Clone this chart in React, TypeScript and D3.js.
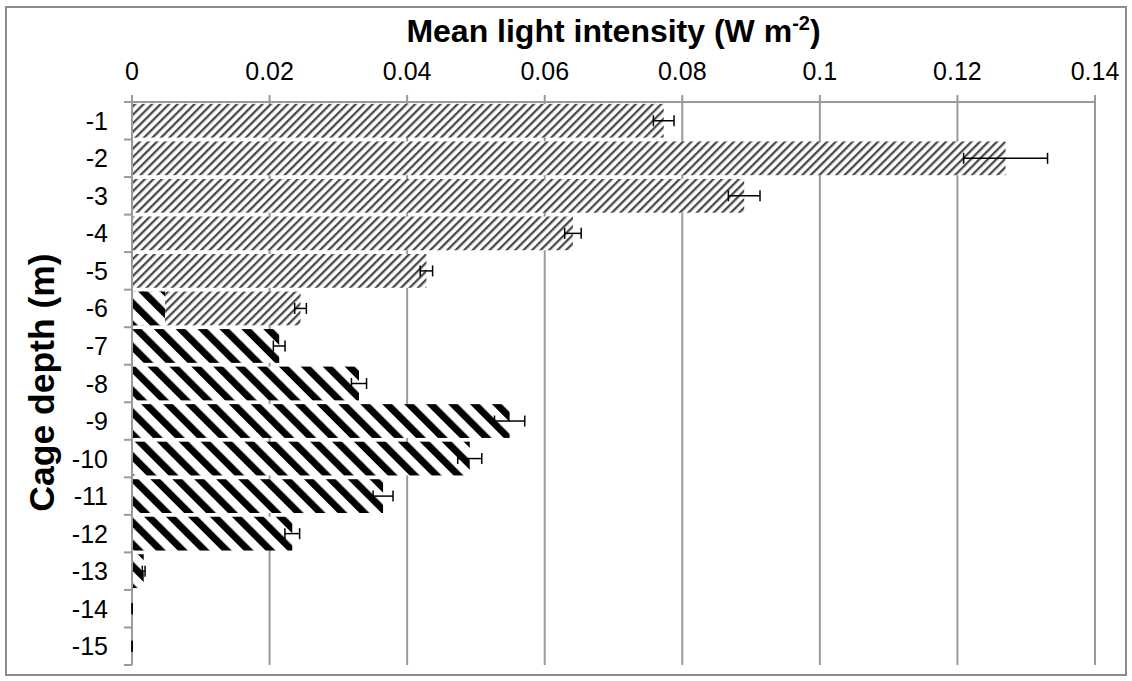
import React, { useEffect, useRef } from 'react';
import * as d3 from 'd3';

// cage depth (m), top to bottom
const depths = [-1, -2, -3, -4, -5, -6, -7, -8, -9, -10, -11, -12, -13, -14, -15];

// mean light intensity (W m-2), shallow cages (fine hatch)
const shallowMean = [0.0773, 0.127, 0.089, 0.0641, 0.0428, 0.0245, null, null, null, null, null, null, null, null, null];
const shallowErr = [0.0015, 0.0061, 0.0023, 0.0012, 0.0009, 0.00085, null, null, null, null, null, null, null, null, null];

// deep cages (bold hatch)
const deepMean = [null, null, null, null, null, 0.0048, 0.0214, 0.033, 0.0549, 0.0491, 0.0365, 0.0233, 0.0017, 0.00003, 0.00002];
const deepErr = [null, null, null, null, null, null, 0.00085, 0.0011, 0.0022, 0.00175, 0.00145, 0.00107, 0.0002, 0.00001, 0.00001];

const xTicks = [0, 0.02, 0.04, 0.06, 0.08, 0.1, 0.12, 0.14];

const W = 1132;
const H = 681;
const font = '"Liberation Sans", Arial, sans-serif';

export default function App() {
    const ref = useRef<SVGSVGElement>(null);

    useEffect(() => {
        const svg = d3.select(ref.current);
        svg.selectAll('*').remove();

        const left = 132, right = 1095, top = 102, bottom = 665;
        const grid = '#9a9a9a';

        const x = d3.scaleLinear().domain([0, 0.14]).range([left, right]);
        const y = d3.scaleBand<string>()
            .domain(depths.map(String))
            .range([top, bottom])
            .paddingInner(0.1)
            .paddingOuter(0.05);

        // hatch patterns
        const defs = svg.append('defs');
        const fine = defs.append('pattern')
            .attr('id', 'fine')
            .attr('patternUnits', 'userSpaceOnUse')
            .attr('width', 6).attr('height', 6)
            .attr('patternTransform', 'rotate(45)');
        fine.append('rect').attr('width', 6).attr('height', 6).attr('fill', '#fff');
        fine.append('rect').attr('width', 2.3).attr('height', 6).attr('fill', '#4a4a4a');

        const bold = defs.append('pattern')
            .attr('id', 'bold')
            .attr('patternUnits', 'userSpaceOnUse')
            .attr('width', 15.5).attr('height', 15.5)
            .attr('patternTransform', 'rotate(-45)');
        bold.append('rect').attr('width', 15.5).attr('height', 15.5).attr('fill', '#fff');
        bold.append('rect').attr('width', 7).attr('height', 15.5).attr('fill', '#000');

        // outer border
        svg.append('rect')
            .attr('x', 6).attr('y', 7)
            .attr('width', 1120).attr('height', 668)
            .attr('fill', '#fff')
            .attr('stroke', '#8c8c8c')
            .attr('stroke-width', 2);

        // vertical gridlines
        svg.selectAll('line.grid')
            .data(xTicks.slice(1))
            .enter()
            .append('line')
            .attr('x1', d => x(d)).attr('x2', d => x(d))
            .attr('y1', top).attr('y2', bottom)
            .attr('stroke', grid)
            .attr('stroke-width', 2);

        // bars
        const rows = depths.map((d, i) => ({
            key: String(d),
            sm: shallowMean[i], se: shallowErr[i],
            dm: deepMean[i], de: deepErr[i],
        }));

        svg.selectAll('rect.shallow')
            .data(rows.filter(r => r.sm != null))
            .enter()
            .append('rect')
            .attr('x', x(0))
            .attr('y', d => y(d.key)!)
            .attr('width', d => x(d.sm!) - x(0))
            .attr('height', y.bandwidth())
            .attr('fill', 'url(#fine)');

        svg.selectAll('rect.deep')
            .data(rows.filter(r => r.dm != null))
            .enter()
            .append('rect')
            .attr('x', x(0))
            .attr('y', d => y(d.key)!)
            .attr('width', d => x(d.dm!) - x(0))
            .attr('height', y.bandwidth())
            .attr('fill', 'url(#bold)');

        // top axis
        svg.append('line')
            .attr('x1', left - 8).attr('x2', right)
            .attr('y1', top).attr('y2', top)
            .attr('stroke', grid).attr('stroke-width', 2);
        svg.selectAll('line.xt')
            .data(xTicks)
            .enter()
            .append('line')
            .attr('x1', d => x(d)).attr('x2', d => x(d))
            .attr('y1', top - 7).attr('y2', top)
            .attr('stroke', grid).attr('stroke-width', 2);
        svg.selectAll('text.xl')
            .data(xTicks)
            .enter()
            .append('text')
            .attr('x', d => x(d))
            .attr('y', 80)
            .attr('text-anchor', 'middle')
            .style('font-family', font)
            .style('font-size', '25px')
            .text(d => String(d));

        // left axis
        svg.append('line')
            .attr('x1', left).attr('x2', left)
            .attr('y1', top).attr('y2', bottom)
            .attr('stroke', grid).attr('stroke-width', 2);
        svg.selectAll('line.yt')
            .data(d3.range(depths.length + 1))
            .enter()
            .append('line')
            .attr('x1', left - 8).attr('x2', left)
            .attr('y1', i => top + i * y.step()).attr('y2', i => top + i * y.step())
            .attr('stroke', grid).attr('stroke-width', 2);
        svg.selectAll('text.yl')
            .data(depths)
            .enter()
            .append('text')
            .attr('x', 108)
            .attr('y', d => y(String(d))! + y.bandwidth() / 2 + 9)
            .attr('text-anchor', 'end')
            .style('font-family', font)
            .style('font-size', '25px')
            .text(d => String(d));

        // error bars (drawn last, over the axis)
        const errs = rows.flatMap(r => {
            const out: { key: string; m: number; e: number }[] = [];
            if (r.sm != null && r.se != null) out.push({ key: r.key, m: r.sm, e: r.se });
            if (r.dm != null && r.de != null) out.push({ key: r.key, m: r.dm, e: r.de });
            return out;
        });
        const eb = svg.selectAll('g.err')
            .data(errs)
            .enter()
            .append('g')
            .attr('stroke', '#000')
            .attr('stroke-width', 1.5);
        const cy = (d: { key: string }) => y(d.key)! + y.bandwidth() / 2;
        eb.append('line')
            .attr('x1', d => x(d.m - d.e)).attr('x2', d => x(d.m + d.e))
            .attr('y1', cy).attr('y2', cy);
        eb.append('line')
            .attr('x1', d => x(d.m - d.e)).attr('x2', d => x(d.m - d.e))
            .attr('y1', d => cy(d) - 5.5).attr('y2', d => cy(d) + 5.5);
        eb.append('line')
            .attr('x1', d => x(d.m + d.e)).attr('x2', d => x(d.m + d.e))
            .attr('y1', d => cy(d) - 5.5).attr('y2', d => cy(d) + 5.5);

        // titles
        const t = svg.append('text')
            .attr('x', (left + right) / 2)
            .attr('y', 42)
            .attr('text-anchor', 'middle')
            .style('font-family', font)
            .style('font-size', '32px')
            .style('font-weight', 'bold');
        t.append('tspan').text('Mean light intensity (W m');
        t.append('tspan').attr('dy', -12).style('font-size', '20px').text('-2');
        t.append('tspan').attr('dy', 12).text(')');

        svg.append('text')
            .attr('transform', `translate(54,${(top + bottom) / 2 - 1}) rotate(-90)`)
            .attr('text-anchor', 'middle')
            .style('font-family', font)
            .style('font-size', '35.5px')
            .style('font-weight', 'bold')
            .text('Cage depth (m)');
    }, []);

    return (
        <svg ref={ref} width={W} height={H}
            style={{ position: 'absolute', left: 0, top: 0, background: '#fff' }} />
    );
}
